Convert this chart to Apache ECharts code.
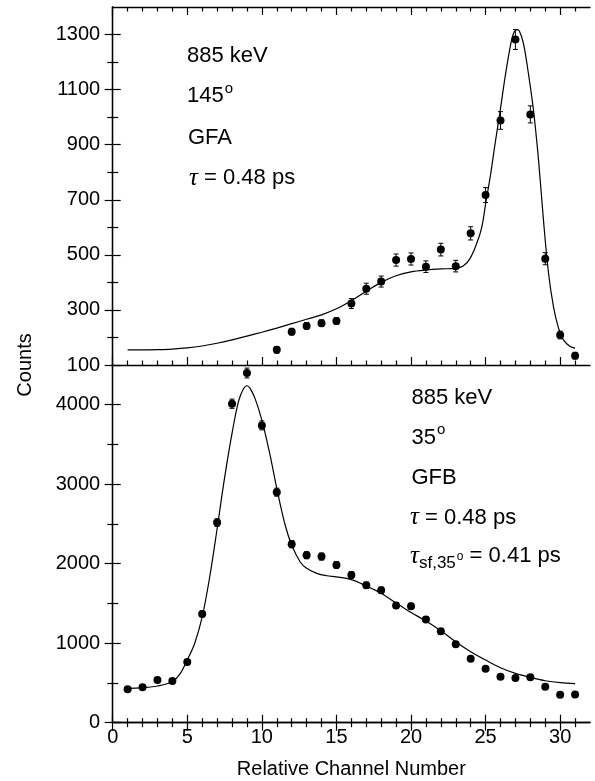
<!DOCTYPE html>
<html>
<head>
<meta charset="utf-8">
<script src="https://cdn.jsdelivr.net/npm/echarts@6/dist/echarts.min.js"></script>
<style>
  html, body { margin: 0; padding: 0; background: #fff; }
  #chart { width: 595px; height: 781px; }
</style>
</head>
<body>
<div id="chart"></div>
<script>
// ---- 885 keV line shape, 145 deg detector (GFA) ----
const topChannels = [11, 12, 13, 14, 15, 16, 17, 18, 19, 20, 21, 22, 23, 24, 25, 26, 27, 28, 29, 30, 31];
const topCounts   = [155, 221, 242, 252, 260, 323, 377, 403, 481, 485, 457, 519, 459, 578, 717, 988, 1282, 1010, 486, 209, 134];
const topErrors   = [12, 12, 12, 12, 12, 18, 20, 20, 22, 22, 21, 23, 21, 24, 27, 32, 36, 31, 22, 14, 12];

// lineshape fit for GFA
const topFitX = [1, 2, 3, 4, 5, 6, 7, 8, 9, 10, 11, 12, 13, 14, 15, 16, 17, 18, 19, 20, 21, 22,
                 23.0, 23.52, 23.96, 24.41, 24.75, 25.04, 25.31, 25.64, 25.98, 26.31, 26.65, 26.87,
                 27.1, 27.27, 27.54, 27.87, 28.21, 28.55, 28.88, 29.22, 29.55, 29.89, 30.22, 30.67, 31.0];
const topFitY = [155, 155, 156, 158, 162, 169, 179, 191, 205, 219, 234, 250, 266, 282, 304, 334, 368, 400, 424, 438, 445, 449,
                 451, 460, 487, 542, 602, 699, 783, 905, 1025, 1146, 1255, 1304,
                 1318, 1312, 1267, 1159, 1025, 844, 626, 433, 312, 234, 191, 167, 161];

// ---- 885 keV line shape, 35 deg detector (GFB) ----
const bottomChannels = [1, 2, 3, 4, 5, 6, 7, 8, 9, 10, 11, 12, 13, 14, 15, 16, 17, 18, 19, 20, 21, 22, 23, 24, 25, 26, 27, 28, 29, 30, 31];
const bottomCounts   = [420, 445, 537, 525, 764, 1368, 2518, 4013, 4399, 3740, 2900, 2246, 2107, 2090, 1985, 1859,
                        1729, 1666, 1473, 1465, 1297, 1150, 986, 806, 680, 579, 562, 573, 453, 353, 355];
const bottomErrors   = [20, 20, 22, 22, 26, 35, 48, 58, 62, 56, 50, 45, 44, 44, 43, 42,
                        40, 40, 37, 37, 35, 33, 30, 27, 25, 23, 23, 23, 20, 18, 18];

// lineshape fit for GFB
const bottomFitX = [1, 2, 3, 4, 4.5, 5, 5.5, 6, 6.5, 7, 7.5, 8, 8.43, 8.76, 9, 9.21, 9.54, 10, 10.55, 11, 11.56, 12, 12.56, 13,
                    13.68, 14.35, 15, 16, 17, 18, 19, 20, 21, 22, 23, 24, 25, 26, 27, 28, 29, 30, 31];
const bottomFitY = [432, 441, 462, 516, 610, 790, 1000, 1330, 1830, 2440, 3080, 3640, 4038, 4197, 4239, 4206, 4080, 3807, 3367, 2948, 2487, 2235, 2025, 1942,
                    1879, 1849, 1835, 1800, 1720, 1628, 1506, 1386, 1280, 1157, 1019, 893, 788, 692, 621, 571, 528, 503, 491];

// ---- axis ticks ----
const xMajorTicks = [0, 5, 10, 15, 20, 25, 30];
const xMinorTicks = [1, 2, 3, 4, 6, 7, 8, 9, 11, 12, 13, 14, 16, 17, 18, 19, 21, 22, 23, 24, 26, 27, 28, 29, 31];
const topYMajorTicks = [100, 300, 500, 700, 900, 1100, 1300];
const topYMinorTicks = [200, 400, 600, 800, 1000, 1200];
const bottomYMajorTicks = [0, 1000, 2000, 3000, 4000];
const bottomYMinorTicks = [500, 1500, 2500, 3500];

const FONT = "'Liberation Sans', Arial, Helvetica, sans-serif";
const SERIF = "'Liberation Serif', 'Times New Roman', serif";
const INK = '#000';

const chart = echarts.init(document.getElementById('chart'), null, { renderer: 'canvas' });

const grids = [
  { left: 112.7, right: 5, top: 7, height: 358 },
  { left: 112.7, right: 5, top: 365, height: 357.7 }
];

const plainNumber = v => String(v);

function xAxesFor(gridIndex, showLabels) {
  const common = { type: 'value', gridIndex, min: 0, max: 32, splitLine: { show: false } };
  const line = { show: true, lineStyle: { color: INK, width: 1.3 } };
  return [
    Object.assign({}, common, {
      position: 'bottom',
      axisLine: line,
      axisTick: { show: true, inside: true, length: 8, customValues: xMajorTicks, lineStyle: { color: INK, width: 1.2 } },
      axisLabel: showLabels
        ? { show: true, customValues: xMajorTicks, formatter: plainNumber, margin: 5, fontSize: 20, fontFamily: FONT, color: INK }
        : { show: false },
      name: showLabels ? 'Relative Channel Number' : '',
      nameLocation: 'middle',
      nameGap: 37,
      nameTextStyle: { fontSize: 20, fontFamily: FONT, color: INK }
    }),
    Object.assign({}, common, {
      position: 'bottom',
      axisLine: { show: false },
      axisTick: { show: true, inside: true, length: 4.5, customValues: xMinorTicks, lineStyle: { color: INK, width: 1.2 } },
      axisLabel: { show: false }
    }),
    Object.assign({}, common, {
      position: 'top',
      axisLine: line,
      axisTick: { show: true, inside: true, length: 8, customValues: xMajorTicks, lineStyle: { color: INK, width: 1.2 } },
      axisLabel: { show: false }
    }),
    Object.assign({}, common, {
      position: 'top',
      axisLine: { show: false },
      axisTick: { show: true, inside: true, length: 4.5, customValues: xMinorTicks, lineStyle: { color: INK, width: 1.2 } },
      axisLabel: { show: false }
    })
  ];
}

function yAxesFor(gridIndex, min, max, major, minor) {
  const common = { type: 'value', gridIndex, min, max, splitLine: { show: false } };
  const line = { show: true, lineStyle: { color: INK, width: 1.3 } };
  return [
    Object.assign({}, common, {
      position: 'left',
      axisLine: line,
      axisTick: { show: true, inside: true, length: 8, customValues: major, lineStyle: { color: INK, width: 1.2 } },
      axisLabel: { show: true, customValues: major, formatter: plainNumber, margin: 12.5, fontSize: 20, fontFamily: FONT, color: INK }
    }),
    Object.assign({}, common, {
      position: 'left',
      axisLine: { show: false },
      axisTick: { show: true, inside: true, length: 5.5, customValues: minor, lineStyle: { color: INK, width: 1.2 } },
      axisLabel: { show: false }
    }),
    Object.assign({}, common, {
      position: 'right',
      axisLine: line,
      axisTick: { show: true, inside: true, length: 8, customValues: major, lineStyle: { color: INK, width: 1.2 } },
      axisLabel: { show: false }
    }),
    Object.assign({}, common, {
      position: 'right',
      axisLine: { show: false },
      axisTick: { show: true, inside: true, length: 5.5, customValues: minor, lineStyle: { color: INK, width: 1.2 } },
      axisLabel: { show: false }
    })
  ];
}

function zip(a, b, c) {
  return a.map((v, i) => c ? [v, b[i], c[i]] : [v, b[i]]);
}

function errorBars(params, api) {
  const x = api.value(0), y = api.value(1), e = api.value(2);
  const hi = api.coord([x, y + e]);
  const lo = api.coord([x, y - e]);
  const cap = 2.5;
  const style = { stroke: INK, lineWidth: 1 };
  return {
    type: 'group',
    children: [
      { type: 'line', shape: { x1: hi[0], y1: hi[1], x2: lo[0], y2: lo[1] }, style },
      { type: 'line', shape: { x1: hi[0] - cap, y1: hi[1], x2: hi[0] + cap, y2: hi[1] }, style },
      { type: 'line', shape: { x1: lo[0] - cap, y1: lo[1], x2: lo[0] + cap, y2: lo[1] }, style }
    ]
  };
}

function panelSeries(axisIndex, fitX, fitY, ch, counts, errs) {
  return [
    {
      type: 'line', xAxisIndex: axisIndex, yAxisIndex: axisIndex,
      data: zip(fitX, fitY), showSymbol: false, smooth: 0.35,
      lineStyle: { color: INK, width: 1.2 }, z: 2, silent: true
    },
    {
      type: 'custom', xAxisIndex: axisIndex, yAxisIndex: axisIndex,
      data: zip(ch, counts, errs), renderItem: errorBars,
      encode: { x: 0, y: 1 }, z: 3, silent: true
    },
    {
      type: 'scatter', xAxisIndex: axisIndex, yAxisIndex: axisIndex,
      data: zip(ch, counts), symbol: 'circle', symbolSize: 8,
      itemStyle: { color: INK, opacity: 1 }, z: 4, silent: true
    }
  ];
}

const mainStyle = { fontSize: 22, fontFamily: FONT, lineHeight: 30, verticalAlign: 'middle', fill: INK };
const richStyles = {
  m: { fontSize: 22, fontFamily: FONT, lineHeight: 30, verticalAlign: 'middle' },
  t: { fontSize: 25, fontFamily: SERIF, fontStyle: 'italic', lineHeight: 30, verticalAlign: 'middle' },
  sup: { fontSize: 15, fontFamily: FONT, lineHeight: 20, verticalAlign: 'top', padding: [0, 0, 0, 1] },
  sub: { fontSize: 17, fontFamily: FONT, lineHeight: 17, verticalAlign: 'bottom' },
  deg: { fontSize: 12, fontFamily: FONT, lineHeight: 30, verticalAlign: 'middle', padding: [0, 0, 0, 1] }
};

function note(x, y, text) {
  return {
    type: 'text', x, y, silent: true,
    style: Object.assign({}, mainStyle, { text, rich: richStyles, align: 'left' })
  };
}

const option = {
  backgroundColor: '#fff',
  animation: false,
  grid: grids,
  xAxis: xAxesFor(0, false).concat(xAxesFor(1, true)),
  yAxis: yAxesFor(0, 100, 1400, topYMajorTicks, topYMinorTicks)
    .concat(yAxesFor(1, 0, 4500, bottomYMajorTicks, bottomYMinorTicks)),
  series: panelSeries(0, topFitX, topFitY, topChannels, topCounts, topErrors)
    .concat(panelSeries(4, bottomFitX, bottomFitY, bottomChannels, bottomCounts, bottomErrors)),
  graphic: [
    note(187, 55.7, '{m|885 keV}'),
    note(187, 96.4, '{m|145}{sup|o}'),
    note(188, 137.7, '{m|GFA}'),
    note(189, 178.1, '{t|τ}{m| = 0.48 ps}'),
    note(411.5, 397.7, '{m|885 keV}'),
    note(411.5, 437.7, '{m|35}{sup|o}'),
    note(411.5, 477.7, '{m|GFB}'),
    note(410, 517.7, '{t|τ}{m| = 0.48 ps}'),
    note(410, 556.4, '{t|τ}{sub|sf,35}{deg|o}{m| = 0.41 ps}'),
    {
      type: 'text', x: 25.8, y: 365, rotation: Math.PI / 2, silent: true,
      style: { text: 'Counts', fontSize: 20, fontFamily: FONT, fill: INK, align: 'center', verticalAlign: 'middle' }
    }
  ]
};

chart.setOption(option);
</script>
</body>
</html>
